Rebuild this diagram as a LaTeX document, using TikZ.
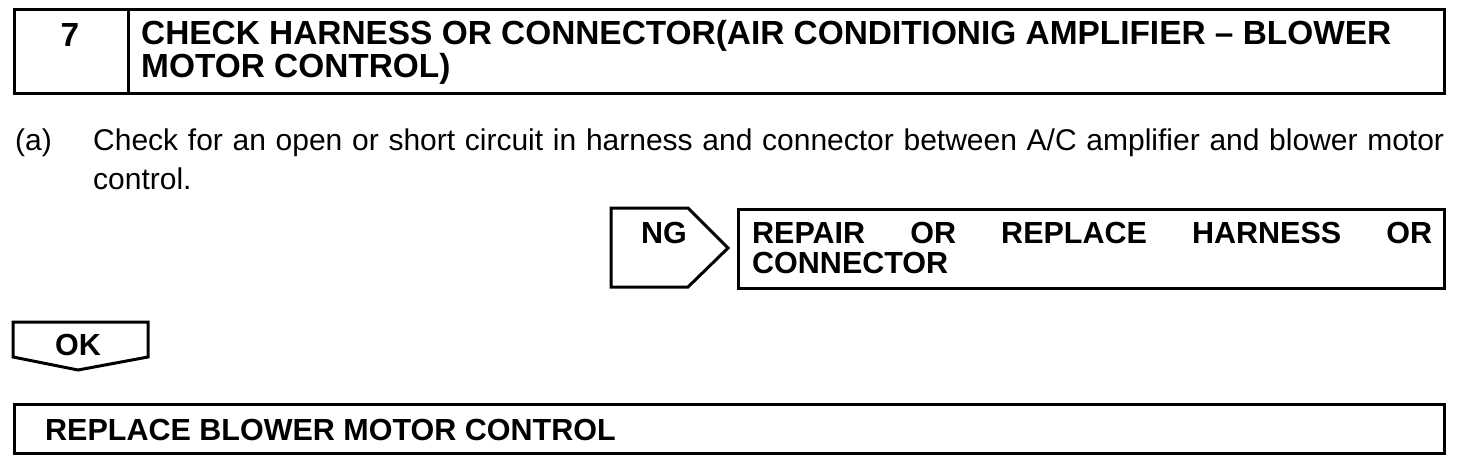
\documentclass[tikz,border=0pt]{standalone}
\usepackage{fontspec}
\setmainfont{Liberation Sans}
\begin{document}
\begin{tikzpicture}[x=1pt,y=-1pt,
  frame/.style={draw,line width=3pt,inner sep=0pt},
  big/.style={font=\fontsize{33.4}{31}\selectfont\bfseries},
  bold/.style={font=\fontsize{30.5}{30}\selectfont\bfseries},
  body/.style={font=\fontsize{30}{39}\selectfont},
  txt/.style={inner sep=0pt, anchor=base west}]
\useasboundingbox (0,0) rectangle (1472,466);
\fill[white] (0,0) rectangle (1472,466);
% header
\node[frame, anchor=north west, minimum width=114pt, minimum height=84pt] (numbox) at (13,8) {};
\node[frame, anchor=north west, minimum width=1316pt, minimum height=84pt] (titlebox) at (127,8) {};
\node[txt, big, anchor=base] (num) at (70,46) {7};
\node[txt, big, align=left] (title) at (141,77) {CHECK HARNESS OR CONNECTOR(AIR CONDITIONIG AMPLIFIER – BLOWER\\MOTOR CONTROL)};
% step text
\node[txt, body] (a) at (15,150) {(a)};
\node[txt, body, text width=1351pt, align=justify] (check) at (93,150) {Check for an open or short circuit in harness and connector between A/C amplifier and blower motor\linebreak control.};
% NG branch
\draw[line width=3pt] (611,208) -- (688,208) -- (728,248) -- (688,287) -- (611,287) -- cycle;
\node[txt, bold] (ng) at (641,243) {NG};
\node[frame, anchor=north west, minimum width=706pt, minimum height=79pt] (repbox) at (737,208) {};
\node[txt, bold, text width=680pt, align=justify] (rep) at (752,243) {REPAIR OR REPLACE HARNESS OR\linebreak CONNECTOR};
% OK branch
\draw[line width=3pt] (13,322) -- (148,322) -- (148,357) -- (78,370) -- (13,357) -- cycle;
\node[txt, bold] (ok) at (55,355) {OK};
% final
\node[frame, anchor=north west, minimum width=1430pt, minimum height=49pt] (finalbox) at (13,403) {};
\node[txt, bold] (final) at (45,440) {REPLACE BLOWER MOTOR CONTROL};
\end{tikzpicture}
\end{document}
